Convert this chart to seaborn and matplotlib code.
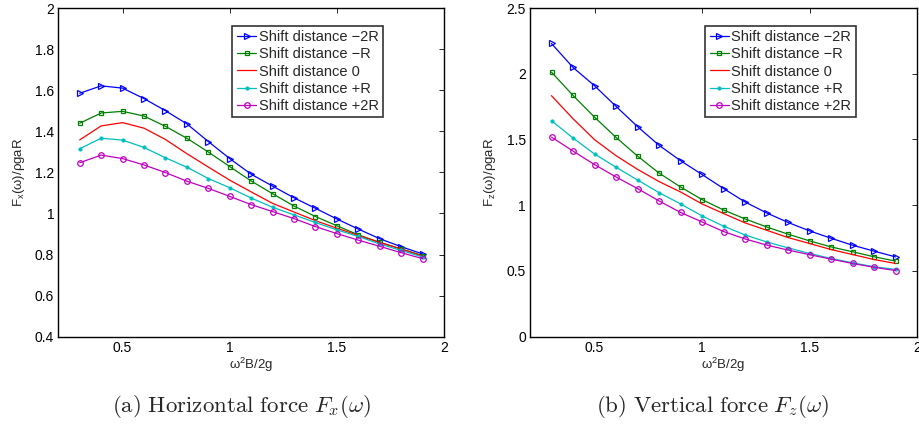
import numpy as np
import pandas as pd
import matplotlib
matplotlib.use("Agg")
import matplotlib.pyplot as plt
import seaborn as sns

# ---- data ----
freq = [0.3, 0.4, 0.5, 0.6, 0.7, 0.8, 0.9, 1.0, 1.1, 1.2, 1.3, 1.4, 1.5, 1.6, 1.7, 1.8, 1.9]
series_names = ["Shift distance \u22122R", "Shift distance \u2212R", "Shift distance 0",
                "Shift distance +R", "Shift distance +2R"]

fx_m2R = [1.585, 1.621, 1.610, 1.559, 1.500, 1.436, 1.350, 1.267, 1.191, 1.133, 1.076, 1.025, 0.973, 0.924, 0.877, 0.838, 0.803]
fx_mR  = [1.439, 1.489, 1.497, 1.474, 1.424, 1.366, 1.299, 1.228, 1.158, 1.096, 1.036, 0.985, 0.940, 0.896, 0.859, 0.827, 0.795]
fx_0   = [1.358, 1.426, 1.442, 1.415, 1.360, 1.291, 1.226, 1.162, 1.105, 1.049, 1.007, 0.965, 0.928, 0.893, 0.859, 0.827, 0.792]
fx_pR  = [1.315, 1.366, 1.357, 1.321, 1.271, 1.225, 1.170, 1.125, 1.075, 1.030, 0.993, 0.956, 0.920, 0.888, 0.851, 0.820, 0.788]
fx_p2R = [1.247, 1.284, 1.267, 1.236, 1.199, 1.157, 1.122, 1.083, 1.043, 1.009, 0.975, 0.936, 0.902, 0.870, 0.840, 0.809, 0.780]

fz_m2R = [2.230, 2.048, 1.909, 1.752, 1.598, 1.456, 1.339, 1.234, 1.127, 1.025, 0.942, 0.869, 0.805, 0.749, 0.696, 0.651, 0.607]
fz_mR  = [2.012, 1.835, 1.670, 1.516, 1.374, 1.245, 1.139, 1.043, 0.964, 0.896, 0.835, 0.780, 0.729, 0.683, 0.646, 0.608, 0.575]
fz_0   = [1.833, 1.658, 1.499, 1.377, 1.273, 1.180, 1.101, 1.010, 0.937, 0.866, 0.810, 0.754, 0.709, 0.663, 0.625, 0.587, 0.557]
fz_pR  = [1.643, 1.511, 1.390, 1.289, 1.192, 1.096, 1.010, 0.919, 0.841, 0.774, 0.721, 0.676, 0.633, 0.595, 0.562, 0.532, 0.512]
fz_p2R = [1.518, 1.412, 1.309, 1.215, 1.127, 1.033, 0.945, 0.873, 0.800, 0.744, 0.697, 0.659, 0.624, 0.590, 0.557, 0.528, 0.503]

fx_ticks = [0.4, 0.6, 0.8, 1.0, 1.2, 1.4, 1.6, 1.8, 2.0]
fx_ticklabels = ["0.4", "0.6", "0.8", "1", "1.2", "1.4", "1.6", "1.8", "2"]
fz_ticks = [0, 0.5, 1.0, 1.5, 2.0, 2.5]
fz_ticklabels = ["0", "0.5", "1", "1.5", "2", "2.5"]
x_ticks = [0.5, 1.0, 1.5, 2.0]
x_ticklabels = ["0.5", "1", "1.5", "2"]

# ---- style ----
sns.set_style("white")
plt.rcParams["font.family"] = ["Liberation Sans", "DejaVu Sans"]
plt.rcParams["mathtext.fontset"] = "custom"
plt.rcParams["mathtext.rm"] = "Liberation Sans"
plt.rcParams["mathtext.it"] = "Liberation Sans"

colors = [(0, 0, 1), (0, 0.5, 0), (1, 0, 0), (0, 0.75, 0.75), (0.75, 0, 0.75)]
markers = [">", "s", None, ".", "o"]
msizes = [4.5, 3.5, 0, 4.5, 4]

def make_df(cols):
    rows = []
    for name, vals in zip(series_names, cols):
        for f, v in zip(freq, vals):
            rows.append({"freq": f, "val": v, "series": name})
    return pd.DataFrame(rows)

W, H = 919, 426
fig = plt.figure(figsize=(W / 100, H / 100), dpi=100)

def ax_rect(x0, x1, y0, y1):
    return [x0 / W, 1 - y1 / H, (x1 - x0) / W, (y1 - y0) / H]

axL = fig.add_axes(ax_rect(58.3, 444, 8, 336.7))
axR = fig.add_axes(ax_rect(530, 917, 8, 336.7))

def draw(ax, cols, ylim, yticks, yticklabels, ylabel):
    df = make_df(cols)
    for i, name in enumerate(series_names):
        sub = df[df["series"] == name]
        kw = dict(color=colors[i], linewidth=0.9, label=name)
        if markers[i] is not None:
            if markers[i] == ".":
                kw.update(marker=".", markersize=msizes[i], markerfacecolor=colors[i],
                          markeredgecolor=colors[i])
            else:
                kw.update(marker=markers[i], markersize=msizes[i], markerfacecolor="none",
                          markeredgecolor=colors[i], markeredgewidth=0.9)
        sns.lineplot(data=sub, x="freq", y="val", ax=ax, **kw)
    ax.set_xlim(0.2, 2.0)
    ax.set_ylim(*ylim)
    ax.set_xticks(x_ticks)
    ax.set_xticklabels(x_ticklabels)
    ax.set_yticks(yticks)
    ax.set_yticklabels(yticklabels)
    ax.tick_params(direction="in", top=True, right=True, length=3.5, width=0.6,
                   labelsize=10, colors="black", pad=3)
    for s in ax.spines.values():
        s.set_color("black")
        s.set_linewidth(1.0)
    ax.set_xlabel(r"ω$^2$B/2g", fontsize=9.5, labelpad=1)
    ax.set_ylabel(ylabel, fontsize=9.5, labelpad=6)
    leg = ax.legend(loc="upper right", bbox_to_anchor=(0.842, 0.946), fontsize=10.5,
                    frameon=True, fancybox=False, borderpad=0.3, labelspacing=0.22,
                    handlelength=1.35, handletextpad=0.15, borderaxespad=0)
    leg.get_frame().set_edgecolor("black")
    leg.get_frame().set_linewidth(1.2)

draw(axL, [fx_m2R, fx_mR, fx_0, fx_pR, fx_p2R], (0.4, 2.0), fx_ticks, fx_ticklabels,
     r"F$_x$(ω)/ρgaR")
draw(axR, [fz_m2R, fz_mR, fz_0, fz_pR, fz_p2R], (0, 2.5), fz_ticks, fz_ticklabels,
     r"F$_z$(ω)/ρgaR")

fig.text(242 / W, 1 - 407 / H, r"$\mathrm{(a)\ Horizontal\ force}\ F_x(\omega)$",
         ha="center", va="center", fontsize=16.5, math_fontfamily="cm")
fig.text(713 / W, 1 - 407 / H, r"$\mathrm{(b)\ Vertical\ force}\ F_z(\omega)$",
         ha="center", va="center", fontsize=16.5, math_fontfamily="cm")

fig.savefig("out.png", dpi=100)
